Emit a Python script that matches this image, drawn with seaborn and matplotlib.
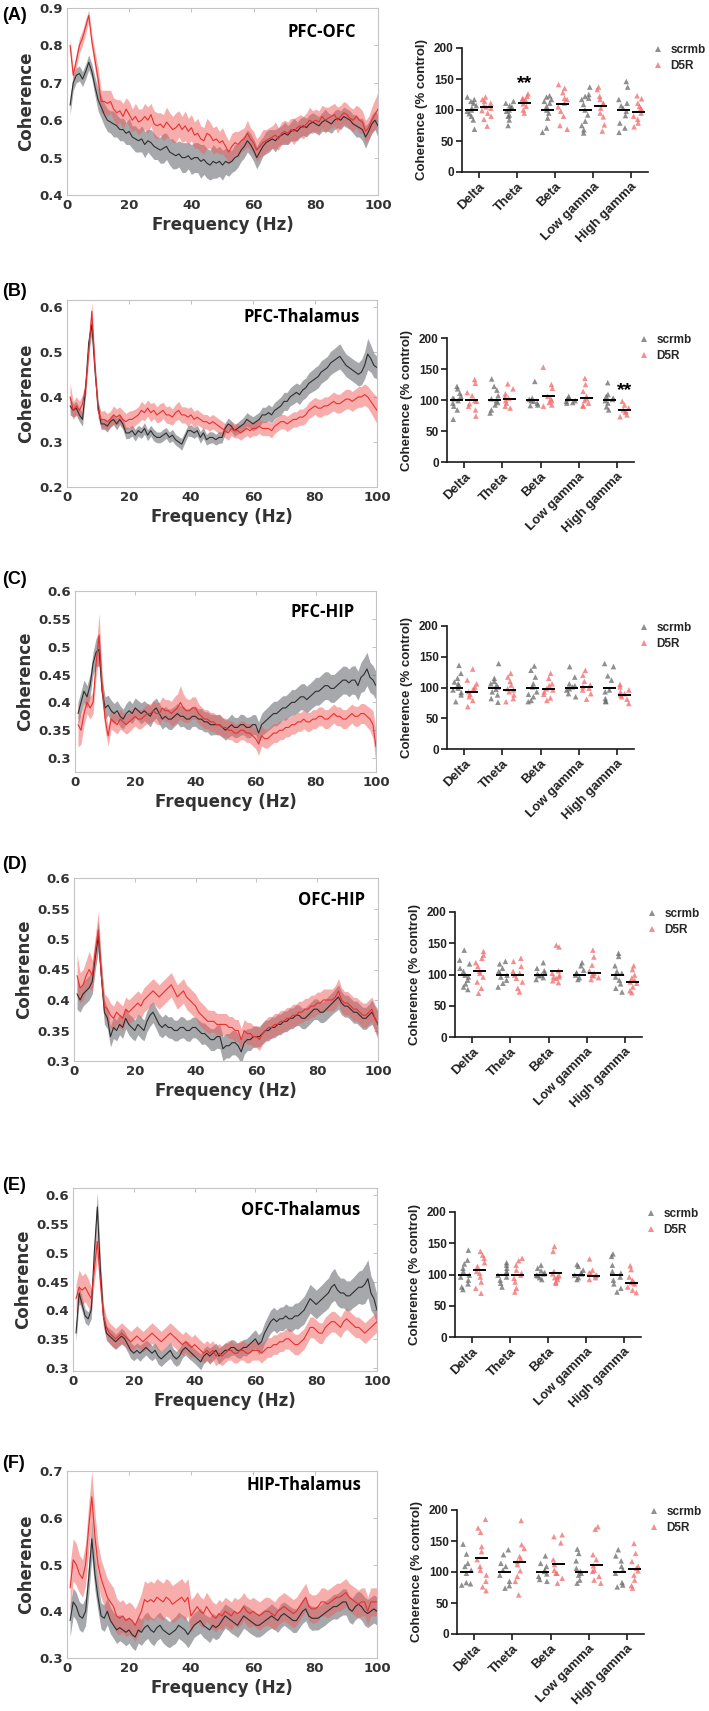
import numpy as np
import pandas as pd
import matplotlib.pyplot as plt
import seaborn as sns
from matplotlib.lines import Line2D
from matplotlib.ticker import FuncFormatter

# ---------------- data ----------------
freq = list(range(1, 101))  # Hz

# (A) PFC-OFC
a_scrmb_mean = [0.64, 0.70, 0.72, 0.725, 0.71, 0.73, 0.755, 0.73, 0.69, 0.655,
                0.635, 0.615, 0.60, 0.595, 0.59, 0.585, 0.575, 0.575, 0.565, 0.57,
                0.555, 0.55, 0.545, 0.55, 0.535, 0.545, 0.54, 0.53, 0.525, 0.52,
                0.525, 0.53, 0.515, 0.51, 0.505, 0.51, 0.50, 0.50, 0.505, 0.495,
                0.50, 0.50, 0.49, 0.495, 0.485, 0.48, 0.49, 0.485, 0.49, 0.48,
                0.49, 0.485, 0.49, 0.50, 0.505, 0.52, 0.53, 0.545, 0.535, 0.52,
                0.50, 0.515, 0.53, 0.54, 0.545, 0.55, 0.545, 0.555, 0.56, 0.565,
                0.56, 0.57, 0.575, 0.57, 0.58, 0.585, 0.58, 0.59, 0.595, 0.59,
                0.585, 0.595, 0.60, 0.595, 0.59, 0.60, 0.605, 0.60, 0.61, 0.605,
                0.60, 0.59, 0.585, 0.58, 0.575, 0.555, 0.57, 0.59, 0.60, 0.585]
a_scrmb_sem = [0.025, 0.02, 0.02, 0.02, 0.02, 0.02, 0.02, 0.02, 0.025, 0.03,
               0.03, 0.03, 0.03, 0.03, 0.035, 0.03, 0.03, 0.03, 0.03, 0.035,
               0.03, 0.035, 0.03, 0.035, 0.035, 0.03, 0.035, 0.035, 0.03, 0.035,
               0.04, 0.035, 0.035, 0.04, 0.035, 0.035, 0.04, 0.04, 0.035, 0.04,
               0.04, 0.04, 0.045, 0.04, 0.04, 0.04, 0.045, 0.04, 0.04, 0.04,
               0.035, 0.035, 0.03, 0.035, 0.03, 0.03, 0.03, 0.03, 0.03, 0.03,
               0.03, 0.03, 0.025, 0.03, 0.03, 0.025, 0.03, 0.025, 0.025, 0.03,
               0.025, 0.025, 0.03, 0.025, 0.025, 0.025, 0.025, 0.025, 0.025, 0.025,
               0.025, 0.025, 0.03, 0.025, 0.025, 0.025, 0.025, 0.025, 0.025, 0.025,
               0.025, 0.025, 0.03, 0.025, 0.03, 0.03, 0.025, 0.025, 0.025, 0.03]
a_d5r_mean = [0.80, 0.72, 0.76, 0.80, 0.82, 0.85, 0.88, 0.81, 0.76, 0.71,
              0.65, 0.65, 0.645, 0.65, 0.63, 0.62, 0.625, 0.61, 0.63, 0.615,
              0.60, 0.61, 0.595, 0.60, 0.61, 0.60, 0.615, 0.59, 0.585, 0.59,
              0.58, 0.595, 0.585, 0.575, 0.58, 0.59, 0.575, 0.585, 0.57, 0.58,
              0.56, 0.565, 0.55, 0.545, 0.565, 0.56, 0.545, 0.55, 0.54, 0.545,
              0.53, 0.515, 0.53, 0.54, 0.535, 0.545, 0.55, 0.565, 0.55, 0.54,
              0.52, 0.53, 0.54, 0.545, 0.55, 0.555, 0.56, 0.55, 0.565, 0.57,
              0.565, 0.575, 0.57, 0.58, 0.585, 0.58, 0.59, 0.60, 0.595, 0.60,
              0.595, 0.61, 0.60, 0.605, 0.61, 0.615, 0.60, 0.61, 0.62, 0.615,
              0.605, 0.60, 0.61, 0.60, 0.595, 0.57, 0.58, 0.60, 0.615, 0.63]
a_d5r_sem = [0.02, 0.015, 0.02, 0.02, 0.02, 0.02, 0.015, 0.02, 0.025, 0.03,
             0.03, 0.03, 0.035, 0.03, 0.03, 0.035, 0.03, 0.035, 0.03, 0.035,
             0.03, 0.035, 0.035, 0.03, 0.035, 0.035, 0.03, 0.035, 0.035, 0.03,
             0.035, 0.04, 0.035, 0.035, 0.04, 0.035, 0.035, 0.04, 0.035, 0.035,
             0.035, 0.04, 0.035, 0.035, 0.04, 0.035, 0.035, 0.035, 0.03, 0.035,
             0.03, 0.03, 0.035, 0.03, 0.035, 0.03, 0.03, 0.035, 0.03, 0.03,
             0.03, 0.03, 0.035, 0.03, 0.03, 0.03, 0.035, 0.03, 0.03, 0.03,
             0.03, 0.03, 0.035, 0.03, 0.03, 0.03, 0.03, 0.035, 0.03, 0.03,
             0.03, 0.03, 0.035, 0.03, 0.03, 0.03, 0.035, 0.03, 0.03, 0.03,
             0.03, 0.03, 0.03, 0.035, 0.03, 0.03, 0.03, 0.035, 0.04, 0.045]

# (B) PFC-Thalamus
b_scrmb_mean = [0.38, 0.37, 0.375, 0.36, 0.35, 0.42, 0.52, 0.56, 0.46, 0.38,
                0.34, 0.34, 0.335, 0.345, 0.35, 0.34, 0.35, 0.34, 0.32, 0.32,
                0.325, 0.315, 0.325, 0.32, 0.33, 0.315, 0.325, 0.315, 0.31, 0.31,
                0.315, 0.32, 0.31, 0.315, 0.305, 0.30, 0.295, 0.31, 0.325, 0.325,
                0.32, 0.325, 0.31, 0.32, 0.305, 0.31, 0.31, 0.305, 0.31, 0.31,
                0.33, 0.34, 0.335, 0.325, 0.33, 0.335, 0.34, 0.35, 0.345, 0.34,
                0.345, 0.35, 0.36, 0.36, 0.365, 0.36, 0.37, 0.375, 0.38, 0.39,
                0.39, 0.40, 0.405, 0.41, 0.405, 0.415, 0.42, 0.43, 0.435, 0.44,
                0.445, 0.455, 0.46, 0.465, 0.475, 0.48, 0.485, 0.49, 0.48, 0.47,
                0.465, 0.46, 0.455, 0.45, 0.455, 0.47, 0.495, 0.485, 0.47, 0.465]
b_scrmb_sem = [0.02, 0.015, 0.015, 0.015, 0.015, 0.015, 0.02, 0.02, 0.015, 0.015,
               0.012, 0.012, 0.013, 0.012, 0.012, 0.013, 0.012, 0.012, 0.013, 0.012,
               0.012, 0.013, 0.012, 0.012, 0.013, 0.012, 0.012, 0.013, 0.012, 0.012,
               0.013, 0.012, 0.012, 0.013, 0.012, 0.012, 0.013, 0.012, 0.012, 0.013,
               0.012, 0.012, 0.013, 0.012, 0.012, 0.013, 0.012, 0.012, 0.013, 0.012,
               0.012, 0.013, 0.012, 0.012, 0.013, 0.014, 0.015, 0.015, 0.015, 0.016,
               0.016, 0.016, 0.017, 0.017, 0.018, 0.018, 0.018, 0.019, 0.02, 0.02,
               0.02, 0.02, 0.021, 0.021, 0.022, 0.022, 0.022, 0.023, 0.024, 0.025,
               0.025, 0.025, 0.025, 0.025, 0.026, 0.026, 0.027, 0.028, 0.026, 0.025,
               0.025, 0.025, 0.025, 0.026, 0.028, 0.03, 0.035, 0.03, 0.027, 0.025]
b_d5r_mean = [0.40, 0.37, 0.38, 0.37, 0.385, 0.42, 0.50, 0.59, 0.47, 0.37,
              0.35, 0.35, 0.345, 0.35, 0.36, 0.355, 0.36, 0.35, 0.345, 0.35,
              0.35, 0.355, 0.36, 0.37, 0.365, 0.375, 0.365, 0.37, 0.36, 0.365,
              0.37, 0.36, 0.36, 0.355, 0.365, 0.37, 0.36, 0.36, 0.355, 0.36,
              0.35, 0.355, 0.35, 0.345, 0.345, 0.34, 0.345, 0.34, 0.335, 0.33,
              0.325, 0.32, 0.33, 0.325, 0.325, 0.32, 0.325, 0.33, 0.325, 0.33,
              0.33, 0.335, 0.33, 0.33, 0.33, 0.325, 0.335, 0.34, 0.345, 0.345,
              0.34, 0.345, 0.35, 0.35, 0.355, 0.355, 0.36, 0.37, 0.375, 0.38,
              0.375, 0.375, 0.38, 0.38, 0.385, 0.39, 0.385, 0.385, 0.39, 0.395,
              0.395, 0.39, 0.395, 0.40, 0.40, 0.405, 0.40, 0.39, 0.38, 0.37]
b_d5r_sem = [0.03, 0.02, 0.02, 0.02, 0.02, 0.02, 0.02, 0.02, 0.02, 0.018,
             0.018, 0.02, 0.018, 0.018, 0.02, 0.018, 0.018, 0.02, 0.018, 0.018,
             0.02, 0.018, 0.018, 0.02, 0.018, 0.018, 0.02, 0.018, 0.018, 0.02,
             0.018, 0.018, 0.02, 0.018, 0.018, 0.02, 0.018, 0.018, 0.02, 0.018,
             0.018, 0.017, 0.016, 0.016, 0.016, 0.016, 0.016, 0.016, 0.016, 0.016,
             0.016, 0.016, 0.016, 0.016, 0.016, 0.016, 0.016, 0.016, 0.016, 0.016,
             0.016, 0.016, 0.016, 0.016, 0.016, 0.016, 0.016, 0.016, 0.016, 0.016,
             0.017, 0.017, 0.017, 0.017, 0.018, 0.018, 0.018, 0.018, 0.019, 0.019,
             0.02, 0.02, 0.02, 0.02, 0.02, 0.021, 0.021, 0.021, 0.022, 0.022,
             0.022, 0.022, 0.022, 0.023, 0.023, 0.024, 0.024, 0.025, 0.027, 0.03]

# (C) PFC-HIP
c_scrmb_mean = [0.38, 0.40, 0.42, 0.41, 0.43, 0.47, 0.49, 0.495, 0.42, 0.39,
                0.395, 0.385, 0.38, 0.385, 0.375, 0.37, 0.38, 0.385, 0.38, 0.39,
                0.385, 0.38, 0.385, 0.38, 0.375, 0.385, 0.39, 0.38, 0.37, 0.375,
                0.37, 0.37, 0.375, 0.38, 0.375, 0.375, 0.37, 0.37, 0.375, 0.375,
                0.37, 0.37, 0.365, 0.365, 0.36, 0.36, 0.36, 0.36, 0.355, 0.35,
                0.355, 0.36, 0.355, 0.355, 0.36, 0.36, 0.355, 0.355, 0.36, 0.36,
                0.345, 0.36, 0.365, 0.37, 0.375, 0.38, 0.38, 0.385, 0.39, 0.39,
                0.395, 0.40, 0.40, 0.405, 0.41, 0.41, 0.405, 0.41, 0.415, 0.42,
                0.42, 0.425, 0.43, 0.43, 0.425, 0.425, 0.43, 0.435, 0.44, 0.44,
                0.435, 0.44, 0.44, 0.43, 0.445, 0.45, 0.46, 0.445, 0.44, 0.43]
c_scrmb_sem = [0.02, 0.02, 0.02, 0.02, 0.02, 0.02, 0.025, 0.03, 0.02, 0.02,
               0.018, 0.019, 0.018, 0.018, 0.019, 0.018, 0.018, 0.019, 0.018, 0.018,
               0.018, 0.019, 0.018, 0.018, 0.019, 0.018, 0.018, 0.019, 0.018, 0.018,
               0.018, 0.019, 0.018, 0.018, 0.019, 0.018, 0.018, 0.019, 0.018, 0.018,
               0.018, 0.019, 0.018, 0.018, 0.019, 0.018, 0.018, 0.019, 0.018, 0.018,
               0.018, 0.019, 0.018, 0.018, 0.019, 0.018, 0.018, 0.019, 0.018, 0.018,
               0.02, 0.02, 0.021, 0.021, 0.022, 0.022, 0.022, 0.022, 0.022, 0.022,
               0.022, 0.023, 0.023, 0.023, 0.023, 0.024, 0.024, 0.024, 0.024, 0.025,
               0.025, 0.025, 0.025, 0.025, 0.025, 0.025, 0.025, 0.025, 0.025, 0.025,
               0.025, 0.025, 0.026, 0.026, 0.027, 0.03, 0.03, 0.027, 0.026, 0.025]
c_d5r_mean = [0.36, 0.35, 0.38, 0.40, 0.39, 0.40, 0.47, 0.52, 0.43, 0.37,
              0.34, 0.37, 0.365, 0.36, 0.37, 0.365, 0.36, 0.365, 0.37, 0.375,
              0.37, 0.37, 0.375, 0.38, 0.38, 0.385, 0.38, 0.38, 0.39, 0.385,
              0.385, 0.38, 0.385, 0.39, 0.40, 0.39, 0.385, 0.385, 0.39, 0.39,
              0.38, 0.375, 0.37, 0.37, 0.365, 0.365, 0.36, 0.36, 0.355, 0.355,
              0.35, 0.35, 0.345, 0.345, 0.35, 0.35, 0.345, 0.345, 0.34, 0.335,
              0.325, 0.34, 0.335, 0.335, 0.34, 0.345, 0.345, 0.35, 0.35, 0.355,
              0.355, 0.36, 0.36, 0.365, 0.365, 0.37, 0.365, 0.365, 0.37, 0.37,
              0.375, 0.375, 0.37, 0.37, 0.375, 0.38, 0.375, 0.375, 0.37, 0.37,
              0.375, 0.38, 0.375, 0.375, 0.38, 0.38, 0.375, 0.37, 0.36, 0.32]
c_d5r_sem = [0.04, 0.025, 0.02, 0.02, 0.02, 0.02, 0.025, 0.04, 0.025, 0.02,
             0.018, 0.018, 0.017, 0.017, 0.018, 0.017, 0.017, 0.018, 0.017, 0.017,
             0.018, 0.017, 0.017, 0.018, 0.017, 0.018, 0.019, 0.02, 0.02, 0.02,
             0.02, 0.022, 0.025, 0.025, 0.03, 0.025, 0.022, 0.02, 0.02, 0.02,
             0.018, 0.017, 0.017, 0.017, 0.017, 0.017, 0.017, 0.017, 0.017, 0.017,
             0.017, 0.017, 0.017, 0.017, 0.017, 0.017, 0.017, 0.017, 0.018, 0.018,
             0.02, 0.018, 0.017, 0.017, 0.017, 0.017, 0.017, 0.017, 0.017, 0.017,
             0.017, 0.017, 0.017, 0.017, 0.017, 0.017, 0.017, 0.017, 0.017, 0.017,
             0.017, 0.017, 0.017, 0.017, 0.017, 0.017, 0.017, 0.017, 0.017, 0.017,
             0.017, 0.017, 0.018, 0.018, 0.018, 0.018, 0.019, 0.02, 0.025, 0.03]

# (D) OFC-HIP
d_scrmb_mean = [0.41, 0.40, 0.41, 0.415, 0.42, 0.43, 0.47, 0.505, 0.44, 0.38,
                0.37, 0.34, 0.355, 0.35, 0.36, 0.355, 0.37, 0.36, 0.355, 0.35,
                0.36, 0.355, 0.35, 0.365, 0.375, 0.38, 0.37, 0.36, 0.355, 0.36,
                0.355, 0.355, 0.35, 0.35, 0.355, 0.355, 0.35, 0.35, 0.355, 0.355,
                0.35, 0.345, 0.345, 0.34, 0.335, 0.335, 0.34, 0.34, 0.32, 0.325,
                0.325, 0.33, 0.33, 0.325, 0.315, 0.33, 0.335, 0.335, 0.34, 0.34,
                0.34, 0.345, 0.35, 0.35, 0.355, 0.355, 0.36, 0.36, 0.365, 0.365,
                0.37, 0.37, 0.375, 0.375, 0.37, 0.37, 0.375, 0.38, 0.385, 0.385,
                0.38, 0.38, 0.385, 0.39, 0.395, 0.40, 0.405, 0.395, 0.39, 0.39,
                0.385, 0.38, 0.38, 0.375, 0.37, 0.37, 0.375, 0.38, 0.37, 0.36]
d_scrmb_sem = [0.025, 0.02, 0.02, 0.02, 0.02, 0.02, 0.02, 0.025, 0.02, 0.02,
               0.017, 0.017, 0.018, 0.017, 0.017, 0.018, 0.017, 0.017, 0.018, 0.017,
               0.017, 0.018, 0.017, 0.017, 0.018, 0.017, 0.017, 0.018, 0.017, 0.017,
               0.017, 0.018, 0.017, 0.017, 0.018, 0.017, 0.017, 0.018, 0.017, 0.017,
               0.017, 0.018, 0.017, 0.017, 0.018, 0.018, 0.019, 0.02, 0.02, 0.02,
               0.02, 0.02, 0.02, 0.02, 0.02, 0.019, 0.018, 0.018, 0.017, 0.017,
               0.017, 0.017, 0.017, 0.017, 0.017, 0.017, 0.017, 0.017, 0.017, 0.017,
               0.017, 0.017, 0.017, 0.017, 0.017, 0.017, 0.017, 0.017, 0.017, 0.017,
               0.017, 0.017, 0.018, 0.018, 0.018, 0.019, 0.02, 0.019, 0.018, 0.018,
               0.018, 0.018, 0.018, 0.018, 0.018, 0.018, 0.018, 0.02, 0.02, 0.02]
d_d5r_mean = [0.44, 0.42, 0.425, 0.44, 0.45, 0.44, 0.48, 0.515, 0.44, 0.39,
              0.385, 0.375, 0.37, 0.38, 0.375, 0.37, 0.385, 0.38, 0.385, 0.39,
              0.395, 0.39, 0.40, 0.405, 0.41, 0.415, 0.41, 0.405, 0.41, 0.415,
              0.42, 0.425, 0.415, 0.405, 0.41, 0.415, 0.405, 0.40, 0.395, 0.39,
              0.38, 0.375, 0.37, 0.365, 0.365, 0.365, 0.36, 0.36, 0.36, 0.36,
              0.355, 0.355, 0.35, 0.35, 0.335, 0.35, 0.345, 0.345, 0.34, 0.34,
              0.335, 0.345, 0.35, 0.355, 0.355, 0.36, 0.36, 0.365, 0.365, 0.37,
              0.37, 0.375, 0.375, 0.38, 0.38, 0.385, 0.385, 0.39, 0.39, 0.395,
              0.395, 0.40, 0.40, 0.40, 0.40, 0.405, 0.415, 0.40, 0.395, 0.395,
              0.39, 0.385, 0.385, 0.38, 0.375, 0.375, 0.38, 0.385, 0.37, 0.36]
d_d5r_sem = [0.035, 0.025, 0.025, 0.025, 0.03, 0.025, 0.025, 0.03, 0.025, 0.02,
             0.02, 0.02, 0.02, 0.02, 0.02, 0.02, 0.02, 0.02, 0.02, 0.02,
             0.02, 0.02, 0.02, 0.02, 0.02, 0.02, 0.02, 0.02, 0.02, 0.02,
             0.02, 0.02, 0.02, 0.02, 0.02, 0.02, 0.02, 0.02, 0.02, 0.02,
             0.02, 0.02, 0.02, 0.019, 0.018, 0.018, 0.018, 0.018, 0.018, 0.018,
             0.018, 0.018, 0.018, 0.018, 0.018, 0.018, 0.018, 0.018, 0.018, 0.018,
             0.018, 0.018, 0.018, 0.018, 0.018, 0.018, 0.018, 0.018, 0.018, 0.018,
             0.018, 0.018, 0.018, 0.018, 0.018, 0.018, 0.018, 0.018, 0.018, 0.018,
             0.018, 0.018, 0.018, 0.018, 0.018, 0.019, 0.02, 0.02, 0.019, 0.019,
             0.019, 0.019, 0.019, 0.019, 0.02, 0.02, 0.02, 0.02, 0.022, 0.025]

# (E) OFC-Thalamus
e_scrmb_mean = [0.36, 0.43, 0.41, 0.39, 0.385, 0.40, 0.50, 0.58, 0.47, 0.39,
                0.36, 0.355, 0.35, 0.345, 0.35, 0.355, 0.35, 0.34, 0.33, 0.325,
                0.33, 0.325, 0.33, 0.335, 0.33, 0.325, 0.33, 0.32, 0.315, 0.32,
                0.325, 0.33, 0.32, 0.315, 0.32, 0.33, 0.335, 0.33, 0.325, 0.32,
                0.315, 0.31, 0.32, 0.325, 0.32, 0.325, 0.33, 0.32, 0.325, 0.33,
                0.33, 0.335, 0.335, 0.33, 0.33, 0.335, 0.335, 0.34, 0.345, 0.35,
                0.34, 0.345, 0.36, 0.37, 0.38, 0.385, 0.38, 0.385, 0.385, 0.39,
                0.385, 0.385, 0.39, 0.39, 0.395, 0.40, 0.41, 0.42, 0.415, 0.41,
                0.415, 0.42, 0.425, 0.43, 0.44, 0.445, 0.435, 0.43, 0.43, 0.425,
                0.425, 0.43, 0.435, 0.44, 0.44, 0.445, 0.455, 0.43, 0.42, 0.40]
e_scrmb_sem = [0.015, 0.015, 0.012, 0.012, 0.012, 0.015, 0.02, 0.025, 0.02, 0.015,
               0.013, 0.013, 0.014, 0.013, 0.013, 0.014, 0.013, 0.013, 0.014, 0.013,
               0.013, 0.014, 0.013, 0.013, 0.014, 0.013, 0.013, 0.014, 0.013, 0.013,
               0.013, 0.014, 0.013, 0.013, 0.014, 0.013, 0.013, 0.014, 0.013, 0.013,
               0.013, 0.014, 0.013, 0.013, 0.014, 0.013, 0.013, 0.014, 0.013, 0.013,
               0.013, 0.014, 0.013, 0.013, 0.014, 0.014, 0.015, 0.015, 0.016, 0.016,
               0.017, 0.018, 0.018, 0.019, 0.02, 0.02, 0.02, 0.02, 0.021, 0.021,
               0.022, 0.022, 0.022, 0.023, 0.023, 0.024, 0.024, 0.025, 0.025, 0.025,
               0.025, 0.025, 0.026, 0.026, 0.027, 0.028, 0.027, 0.026, 0.026, 0.026,
               0.026, 0.026, 0.027, 0.028, 0.03, 0.033, 0.033, 0.03, 0.028, 0.026]
e_d5r_mean = [0.42, 0.44, 0.435, 0.44, 0.43, 0.42, 0.47, 0.52, 0.45, 0.39,
              0.37, 0.36, 0.355, 0.35, 0.355, 0.36, 0.355, 0.35, 0.345, 0.35,
              0.355, 0.35, 0.345, 0.35, 0.355, 0.36, 0.355, 0.35, 0.345, 0.35,
              0.355, 0.36, 0.355, 0.35, 0.345, 0.34, 0.345, 0.34, 0.335, 0.34,
              0.335, 0.33, 0.325, 0.33, 0.325, 0.33, 0.32, 0.325, 0.32, 0.325,
              0.33, 0.33, 0.325, 0.325, 0.33, 0.33, 0.325, 0.325, 0.33, 0.33,
              0.33, 0.325, 0.33, 0.335, 0.335, 0.34, 0.34, 0.345, 0.345, 0.35,
              0.35, 0.345, 0.34, 0.34, 0.345, 0.35, 0.36, 0.37, 0.37, 0.365,
              0.36, 0.36, 0.37, 0.375, 0.38, 0.38, 0.375, 0.37, 0.38, 0.385,
              0.38, 0.375, 0.37, 0.37, 0.365, 0.36, 0.365, 0.37, 0.375, 0.38]
e_d5r_sem = [0.025, 0.03, 0.025, 0.025, 0.025, 0.02, 0.02, 0.03, 0.025, 0.02,
             0.018, 0.018, 0.018, 0.018, 0.018, 0.018, 0.018, 0.018, 0.018, 0.018,
             0.018, 0.018, 0.018, 0.018, 0.018, 0.018, 0.018, 0.018, 0.018, 0.018,
             0.018, 0.018, 0.018, 0.018, 0.018, 0.018, 0.018, 0.018, 0.018, 0.018,
             0.017, 0.017, 0.017, 0.017, 0.017, 0.017, 0.017, 0.017, 0.017, 0.017,
             0.017, 0.017, 0.017, 0.017, 0.017, 0.017, 0.017, 0.017, 0.017, 0.017,
             0.017, 0.017, 0.017, 0.017, 0.017, 0.017, 0.017, 0.017, 0.017, 0.017,
             0.018, 0.018, 0.018, 0.018, 0.018, 0.018, 0.018, 0.018, 0.018, 0.018,
             0.018, 0.018, 0.018, 0.018, 0.018, 0.018, 0.018, 0.018, 0.018, 0.018,
             0.018, 0.018, 0.018, 0.018, 0.018, 0.018, 0.018, 0.018, 0.018, 0.018]

# (F) HIP-Thalamus
f_scrmb_mean = [0.38, 0.42, 0.41, 0.39, 0.385, 0.40, 0.47, 0.555, 0.48, 0.43,
                0.39, 0.385, 0.40, 0.38, 0.37, 0.36, 0.365, 0.36, 0.355, 0.36,
                0.35, 0.345, 0.36, 0.355, 0.365, 0.37, 0.36, 0.355, 0.365, 0.37,
                0.36, 0.355, 0.35, 0.355, 0.36, 0.37, 0.365, 0.36, 0.35, 0.36,
                0.37, 0.375, 0.38, 0.37, 0.365, 0.36, 0.37, 0.365, 0.37, 0.38,
                0.39, 0.385, 0.38, 0.375, 0.37, 0.38, 0.39, 0.385, 0.38, 0.375,
                0.37, 0.37, 0.375, 0.38, 0.385, 0.39, 0.385, 0.38, 0.39, 0.395,
                0.39, 0.385, 0.38, 0.38, 0.39, 0.40, 0.405, 0.39, 0.385, 0.385,
                0.385, 0.39, 0.395, 0.40, 0.405, 0.41, 0.41, 0.415, 0.42, 0.42,
                0.405, 0.40, 0.41, 0.415, 0.41, 0.40, 0.395, 0.40, 0.405, 0.40]
f_scrmb_sem = [0.035, 0.03, 0.03, 0.03, 0.03, 0.03, 0.035, 0.04, 0.035, 0.03,
               0.028, 0.028, 0.029, 0.028, 0.028, 0.029, 0.028, 0.028, 0.029, 0.028,
               0.028, 0.029, 0.028, 0.028, 0.029, 0.028, 0.028, 0.029, 0.028, 0.028,
               0.028, 0.029, 0.028, 0.028, 0.029, 0.028, 0.028, 0.029, 0.028, 0.028,
               0.026, 0.026, 0.027, 0.026, 0.026, 0.027, 0.026, 0.026, 0.027, 0.026,
               0.026, 0.026, 0.027, 0.026, 0.026, 0.027, 0.026, 0.026, 0.027, 0.026,
               0.025, 0.025, 0.026, 0.025, 0.025, 0.026, 0.025, 0.025, 0.026, 0.025,
               0.025, 0.025, 0.026, 0.025, 0.025, 0.026, 0.025, 0.025, 0.026, 0.025,
               0.025, 0.025, 0.026, 0.025, 0.025, 0.026, 0.027, 0.027, 0.028, 0.028,
               0.028, 0.028, 0.028, 0.028, 0.029, 0.03, 0.03, 0.03, 0.03, 0.03]
f_d5r_mean = [0.45, 0.51, 0.50, 0.48, 0.47, 0.50, 0.58, 0.645, 0.56, 0.50,
              0.47, 0.45, 0.43, 0.42, 0.41, 0.39, 0.385, 0.39, 0.38, 0.385,
              0.38, 0.37, 0.385, 0.40, 0.425, 0.42, 0.425, 0.42, 0.43, 0.425,
              0.42, 0.43, 0.425, 0.415, 0.42, 0.425, 0.43, 0.42, 0.43, 0.39,
              0.40, 0.41, 0.40, 0.395, 0.41, 0.40, 0.39, 0.385, 0.395, 0.39,
              0.40, 0.395, 0.39, 0.40, 0.395, 0.40, 0.41, 0.40, 0.395, 0.40,
              0.395, 0.39, 0.395, 0.40, 0.40, 0.395, 0.39, 0.40, 0.405, 0.41,
              0.405, 0.40, 0.395, 0.40, 0.41, 0.42, 0.43, 0.41, 0.405, 0.405,
              0.41, 0.42, 0.42, 0.415, 0.42, 0.425, 0.43, 0.43, 0.435, 0.44,
              0.43, 0.425, 0.42, 0.415, 0.42, 0.42, 0.40, 0.42, 0.42, 0.42]
f_d5r_sem = [0.05, 0.045, 0.045, 0.04, 0.04, 0.045, 0.05, 0.055, 0.05, 0.045,
             0.04, 0.04, 0.04, 0.04, 0.04, 0.038, 0.035, 0.035, 0.035, 0.035,
             0.035, 0.035, 0.035, 0.038, 0.04, 0.04, 0.04, 0.04, 0.04, 0.04,
             0.04, 0.04, 0.04, 0.04, 0.04, 0.04, 0.04, 0.04, 0.04, 0.035,
             0.032, 0.032, 0.031, 0.031, 0.031, 0.03, 0.03, 0.03, 0.03, 0.03,
             0.03, 0.03, 0.03, 0.03, 0.03, 0.03, 0.03, 0.03, 0.03, 0.03,
             0.03, 0.03, 0.03, 0.03, 0.03, 0.03, 0.03, 0.03, 0.03, 0.03,
             0.03, 0.03, 0.03, 0.03, 0.03, 0.03, 0.03, 0.03, 0.03, 0.03,
             0.03, 0.03, 0.03, 0.03, 0.03, 0.03, 0.03, 0.03, 0.03, 0.03,
             0.03, 0.03, 0.03, 0.03, 0.03, 0.03, 0.03, 0.03, 0.03, 0.03]

# band coherence, % of control
bands = ['Delta', 'Theta', 'Beta', 'Low gamma', 'High gamma']
groups = ['scrmb', 'D5R']

a_scrmb_pts = [[121, 117, 114, 111, 107, 103, 100, 98, 94, 90, 84, 69],
               [114, 111, 107, 105, 103, 100, 98, 92, 90, 84, 75],
               [123, 121, 117, 114, 111, 106, 100, 95, 87, 71, 64],
               [137, 125, 122, 119, 117, 109, 100, 92, 82, 75, 68, 63],
               [146, 137, 117, 111, 107, 103, 98, 91, 79, 71, 64]]
a_d5r_pts = [[121, 117, 114, 111, 107, 105, 103, 99, 95, 90, 85, 74],
             [126, 122, 119, 117, 117, 114, 110, 106, 100, 95],
             [141, 135, 128, 119, 117, 111, 105, 98, 90, 75, 69],
             [137, 133, 122, 117, 111, 109, 103, 95, 89, 76, 66],
             [123, 118, 111, 106, 103, 100, 95, 90, 85, 79, 73]]
a_scrmb_avg = [100, 100, 100, 100, 100]
a_d5r_avg = [105, 112, 110, 107, 97]

b_scrmb_pts = [[122, 118, 111, 106, 103, 102, 99, 95, 90, 84, 69],
               [134, 122, 116, 107, 102, 99, 96, 92, 84, 79],
               [130, 103, 101, 99, 98, 95, 92, 91],
               [106, 103, 102, 99, 98, 96, 95],
               [128, 109, 106, 103, 101, 99, 95, 89, 84]]
b_d5r_pts = [[133, 127, 112, 107, 99, 98, 94, 90, 84, 74],
             [126, 118, 110, 105, 103, 99, 95, 90, 87],
             [153, 125, 119, 106, 102, 99, 96, 92, 90],
             [135, 125, 114, 106, 102, 99, 95, 91, 90],
             [98, 92, 87, 84, 82, 80, 76, 73]]
b_scrmb_avg = [100, 100, 100, 100, 100]
b_d5r_avg = [100, 102, 106, 103, 84]

c_scrmb_pts = [[136, 123, 115, 109, 106, 104, 99, 96, 92, 88, 77],
               [139, 115, 110, 106, 104, 101, 97, 93, 88, 82, 76],
               [135, 128, 117, 106, 101, 93, 89, 85, 79, 77],
               [134, 117, 106, 103, 101, 98, 96, 90, 85],
               [139, 134, 119, 112, 96, 93, 82, 78, 77]]
c_d5r_pts = [[130, 112, 106, 101, 97, 96, 93, 89, 85, 79, 69],
             [123, 117, 110, 104, 98, 96, 93, 88, 82, 77],
             [123, 115, 106, 103, 98, 96, 93, 89, 83, 79],
             [128, 120, 110, 104, 101, 99, 96, 90, 81],
             [105, 101, 96, 93, 90, 88, 85, 81, 74]]
c_scrmb_avg = [100, 100, 100, 100, 100]
c_d5r_avg = [92, 96, 98, 101, 88]

d_scrmb_pts = [[139, 123, 117, 110, 105, 99, 96, 91, 85, 80, 76],
               [121, 117, 110, 105, 102, 99, 96, 91, 86, 80],
               [119, 110, 106, 103, 101, 99, 98, 95, 92],
               [119, 114, 107, 103, 102, 99, 95, 92],
               [134, 129, 114, 105, 102, 96, 91, 85, 78, 72]]
d_d5r_pts = [[137, 131, 126, 119, 113, 105, 102, 96, 88, 78, 70],
             [126, 121, 113, 105, 102, 99, 94, 88, 78, 72],
             [147, 144, 106, 102, 99, 96, 96, 94, 90, 87],
             [139, 128, 115, 106, 102, 99, 98, 95, 92],
             [114, 108, 99, 94, 91, 88, 86, 80, 74, 71]]
d_scrmb_avg = [100, 100, 100, 100, 100]
d_d5r_avg = [106, 100, 106, 103, 88]

e_scrmb_pts = [[139, 123, 117, 110, 105, 99, 96, 91, 85, 80, 76],
               [119, 115, 110, 105, 102, 99, 96, 91, 86, 80],
               [115, 110, 106, 103, 101, 99, 98, 95, 92],
               [116, 113, 107, 103, 101, 99, 95, 92],
               [133, 129, 115, 105, 102, 96, 91, 85, 78, 72]]
e_d5r_pts = [[137, 131, 126, 119, 113, 105, 102, 96, 88, 78, 70],
             [126, 122, 115, 107, 102, 99, 94, 88, 78, 72],
             [145, 137, 105, 101, 98, 96, 95, 92, 88, 86],
             [125, 107, 103, 101, 99, 98, 95, 92],
             [114, 108, 96, 91, 88, 87, 85, 80, 75, 71]]
e_scrmb_avg = [100, 100, 100, 100, 100]
e_d5r_avg = [107, 99, 102, 98, 87]

f_scrmb_pts = [[145, 129, 114, 109, 103, 98, 83, 81, 79],
               [136, 128, 114, 109, 103, 95, 85, 78, 74],
               [126, 114, 109, 103, 101, 97, 93, 88, 85],
               [137, 130, 118, 106, 101, 98, 95, 87, 82],
               [136, 126, 118, 109, 103, 98, 83, 79, 76]]
f_d5r_pts = [[185, 171, 164, 141, 133, 120, 109, 103, 95, 85, 76, 70],
             [183, 144, 138, 125, 121, 117, 112, 102, 93, 85, 63],
             [160, 157, 147, 120, 112, 103, 98, 98, 90, 82],
             [173, 169, 128, 120, 110, 103, 101, 93, 87, 82],
             [146, 130, 117, 109, 106, 102, 95, 87, 78, 74]]
f_scrmb_avg = [100, 100, 100, 100, 100]
f_d5r_avg = [122, 116, 113, 112, 105]

pair_names = ['PFC-OFC', 'PFC-Thalamus', 'PFC-HIP', 'OFC-HIP', 'OFC-Thalamus', 'HIP-Thalamus']
letters = ['(A)', '(B)', '(C)', '(D)', '(E)', '(F)']

# ---------------- style / layout ----------------
sns.set_style('white')
plt.rcParams['font.family'] = ['DejaVu Sans']
np.random.seed(7)

W, H = 709, 1711
fig = plt.figure(figsize=(W / 100, H / 100), dpi=100)


def box(x0, y0, x1, y1):
    return [x0 / W, 1 - y1 / H, (x1 - x0) / W, (y1 - y0) / H]


left_boxes = [(67, 8, 378, 195), (67, 300, 377, 487), (75, 591, 376, 772),
              (74, 878, 378, 1061), (73, 1188, 377, 1371), (67, 1471, 377, 1658)]
right_boxes = [(462, 48, 648, 172), (447, 338, 634, 462), (447, 626, 634, 749),
               (455, 912, 642, 1037), (455, 1212, 641, 1337), (457, 1510, 644, 1634)]
letter_y = [15, 292, 580, 865, 1185, 1463]
name_xy = [(0.93, 0.87), (0.945, 0.91), (0.93, 0.885), (0.957, 0.88), (0.944, 0.88), (0.95, 0.925)]
ylims = [(0.4, 0.9), (0.2, 0.615), (0.275, 0.6), (0.3, 0.6), (0.294, 0.613), (0.3, 0.7)]
yticks = [np.arange(0.4, 0.91, 0.1), np.arange(0.2, 0.61, 0.1), np.arange(0.3, 0.61, 0.05),
          np.arange(0.3, 0.61, 0.05), np.arange(0.3, 0.61, 0.05), np.arange(0.3, 0.71, 0.1)]

spectra = [(a_scrmb_mean, a_scrmb_sem, a_d5r_mean, a_d5r_sem),
           (b_scrmb_mean, b_scrmb_sem, b_d5r_mean, b_d5r_sem),
           (c_scrmb_mean, c_scrmb_sem, c_d5r_mean, c_d5r_sem),
           (d_scrmb_mean, d_scrmb_sem, d_d5r_mean, d_d5r_sem),
           (e_scrmb_mean, e_scrmb_sem, e_d5r_mean, e_d5r_sem),
           (f_scrmb_mean, f_scrmb_sem, f_d5r_mean, f_d5r_sem)]
dots = [(a_scrmb_pts, a_d5r_pts, a_scrmb_avg, a_d5r_avg),
        (b_scrmb_pts, b_d5r_pts, b_scrmb_avg, b_d5r_avg),
        (c_scrmb_pts, c_d5r_pts, c_scrmb_avg, c_d5r_avg),
        (d_scrmb_pts, d_d5r_pts, d_scrmb_avg, d_d5r_avg),
        (e_scrmb_pts, e_d5r_pts, e_scrmb_avg, e_d5r_avg),
        (f_scrmb_pts, f_d5r_pts, f_scrmb_avg, f_d5r_avg)]
# significance marks: (panel, band index, height)
stars = [(0, 1, 143), (1, 4, 116)]

grey_line, grey_fill = '#2e2e2e', '#5d6166'
red_line, red_fill = '#e8302f', '#f25c5c'
dot_colors = {'scrmb': '#6a6a6a', 'D5R': '#f26a6a'}
label_grey = '#333333'
arial = 'Liberation Sans'

for k in range(6):
    # ---- coherence spectrum ----
    ax = fig.add_axes(box(*left_boxes[k]))
    s_m, s_e, d_m, d_e = [np.array(v) for v in spectra[k]]
    ax.fill_between(freq, s_m - s_e, s_m + s_e, color=grey_fill, alpha=0.55, lw=0)
    ax.fill_between(freq, d_m - d_e, d_m + d_e, color=red_fill, alpha=0.5, lw=0)
    sns.lineplot(x=freq, y=s_m, color=grey_line, lw=0.8, ax=ax)
    sns.lineplot(x=freq, y=d_m, color=red_line, lw=0.8, ax=ax)
    ax.set_xlim(0, 100)
    ax.set_ylim(*ylims[k])
    ax.set_xticks([0, 20, 40, 60, 80, 100])
    ax.set_yticks(yticks[k])
    ax.yaxis.set_major_formatter(FuncFormatter(lambda v, p: '{:g}'.format(round(v, 2))))
    ax.tick_params(direction='in', length=3, width=0.6, color='#b8b8b8', top=True, right=True,
                   labelsize=9.5, labelcolor=label_grey, pad=3)
    for lab in ax.get_xticklabels() + ax.get_yticklabels():
        lab.set_fontweight('bold')
    for sp in ax.spines.values():
        sp.set_color('#c4c4c4')
        sp.set_linewidth(0.8)
    ax.set_xlabel('Frequency (Hz)', fontsize=12, fontweight='bold', color=label_grey, labelpad=3)
    ax.set_ylabel('Coherence', fontsize=12, fontweight='bold', color=label_grey, labelpad=3)
    ax.text(name_xy[k][0], name_xy[k][1], pair_names[k], transform=ax.transAxes, ha='right',
            va='center', fontsize=12, fontweight='bold', family='Open Sans', color='black')
    fig.text(2 / W, 1 - letter_y[k] / H, letters[k], ha='left', va='center', fontsize=13,
             fontweight='bold', family=arial, color='black')

    # ---- band scatter ----
    ax2 = fig.add_axes(box(*right_boxes[k]))
    s_pts, d_pts, s_avg, d_avg = dots[k]
    rows = []
    for band, sv, dv in zip(bands, s_pts, d_pts):
        rows += [(band, 'scrmb', v) for v in sv]
        rows += [(band, 'D5R', v) for v in dv]
    df = pd.DataFrame(rows, columns=['band', 'group', 'value'])
    sns.stripplot(data=df, x='band', y='value', hue='group', order=bands, hue_order=groups,
                  palette=dot_colors, marker='^', size=4, jitter=0.26, dodge=True,
                  alpha=0.75, linewidth=0, legend=False, ax=ax2)
    for i in range(len(bands)):
        ax2.hlines(s_avg[i], i - 0.2 - 0.17, i - 0.2 + 0.17, color='black', lw=1.4, zorder=5)
        ax2.hlines(d_avg[i], i + 0.2 - 0.17, i + 0.2 + 0.17, color='black', lw=1.4, zorder=5)
    for pk, bi, hgt in stars:
        if pk == k:
            ax2.text(bi + 0.2, hgt, '**', ha='center', va='center', fontsize=14,
                     fontweight='bold', family=arial, color='black')
    ax2.set_xlim(-0.45, 4.45)
    ax2.set_ylim(0, 200)
    ax2.set_yticks([0, 50, 100, 150, 200])
    ax2.set_xlabel('')
    ax2.set_ylabel('Coherence (% control)', fontsize=9.5, fontweight='bold', family=arial,
                   color='#222222', labelpad=4)
    sns.despine(ax=ax2)
    for sp in ['left', 'bottom']:
        ax2.spines[sp].set_color('#1a1a1a')
        ax2.spines[sp].set_linewidth(1.2)
    ax2.tick_params(axis='both', direction='out', length=4, width=1.2, color='#1a1a1a',
                    left=True, bottom=True, pad=2)
    ax2.set_yticklabels([0, 50, 100, 150, 200], fontsize=8.5, fontweight='bold', family=arial,
                        color='#222222')
    ax2.set_xticklabels(bands, rotation=45, ha='right', rotation_mode='anchor', fontsize=9.5,
                        fontweight='bold', family=arial, color='#222222')
    handles = [Line2D([0], [0], marker='^', ls='none', color=dot_colors[g], alpha=0.75,
                      markersize=4.5, markeredgewidth=0) for g in groups]
    ax2.legend(handles, groups, loc='upper left', bbox_to_anchor=(1.02, 1.03), frameon=False,
               handlelength=1, handletextpad=0.6, borderpad=0, borderaxespad=0,
               labelspacing=0.35, prop={'family': arial, 'weight': 'bold', 'size': 8.5})

fig.savefig('out.png', dpi=100)
